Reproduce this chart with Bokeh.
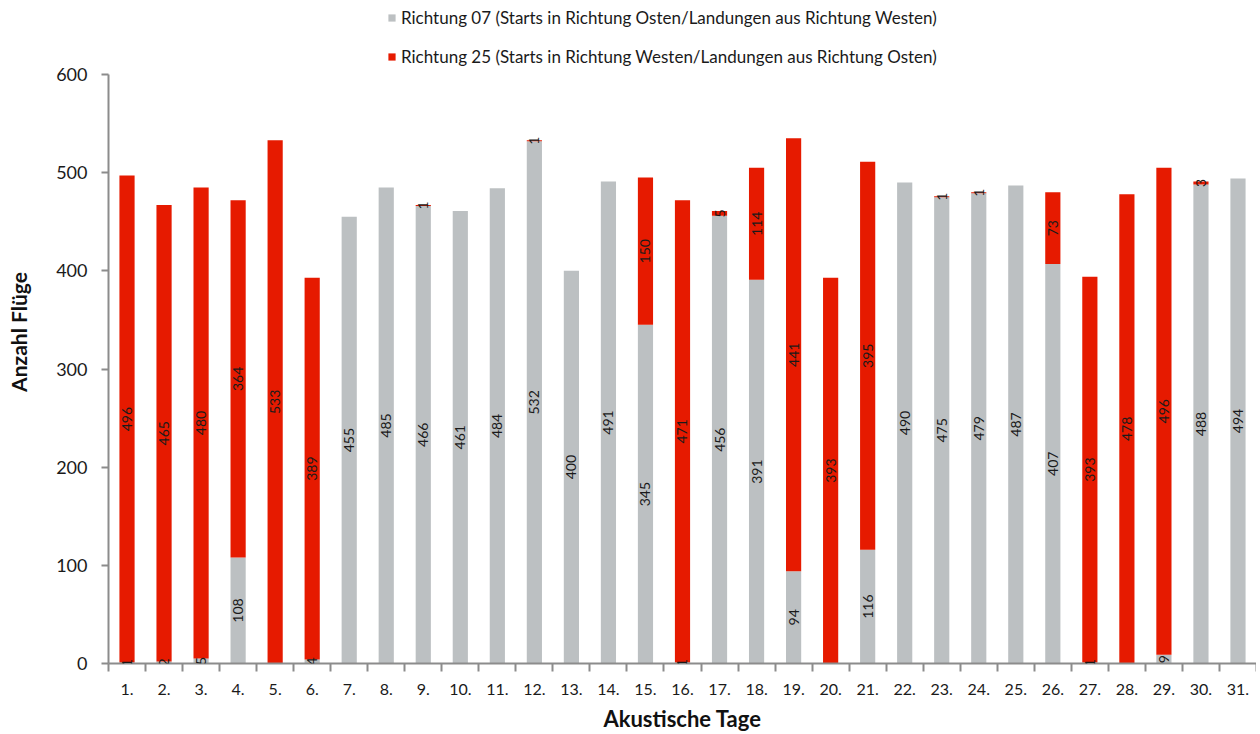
import math
from bokeh.plotting import figure
from bokeh.models import (ColumnDataSource, LabelSet, Legend, LegendItem,
                          FixedTicker, Range1d)
from bokeh.core.properties import value
from bokeh.embed import file_html
from bokeh.resources import INLINE

# ---- data ----
days = list(range(1, 32))
day_labels = [f"{d}." for d in days]
r07 = [1, 2, 5, 108, 0, 4, 455, 485, 466, 461, 484, 532, 400, 491, 345, 1,
       456, 391, 94, 0, 116, 490, 475, 479, 487, 407, 1, 0, 9, 488, 494]
r25 = [496, 465, 480, 364, 533, 389, 0, 0, 1, 0, 0, 1, 0, 0, 150, 471,
       5, 114, 441, 393, 395, 0, 1, 1, 0, 73, 393, 478, 496, 3, 0]
y_ticks = [0, 100, 200, 300, 400, 500, 600]
name07 = "Richtung 07 (Starts in Richtung Osten/Landungen aus Richtung Westen)"
name25 = "Richtung 25 (Starts in Richtung Westen/Landungen aus Richtung Osten)"

GRAY = "#bcc0c2"
RED = "#e61a00"
AXIS = "#8c8c8c"
FONT = "Lato"

# layout geometry (pixels): plot area 589 px tall for 0..600,
# plus 74 px of headroom above it for the legend
PLOT_H = 589
HEAD = 74
Y_MAX = 600
y_top = Y_MAX * (PLOT_H + HEAD) / PLOT_H

src = ColumnDataSource(dict(x=days, r07=r07, r25=r25))

p = figure(frame_width=1148, frame_height=PLOT_H + HEAD, output_backend="svg",
           toolbar_location=None,
           x_range=Range1d(0.5, 31.5), y_range=Range1d(0, y_top),
           min_border_left=108, min_border_right=0,
           min_border_top=0, min_border_bottom=0)

rs = p.vbar_stack(["r07", "r25"], x="x", width=0.41, source=src,
                  color=[GRAY, RED], line_color=None)

# data labels
lx, ly, lt = [], [], []
for d, a, b in zip(days, r07, r25):
    if a > 0:
        lx.append(d); ly.append(a / 2); lt.append(str(a))
    if b > 0:
        lx.append(d); ly.append(a + b / 2); lt.append(str(b))
lsrc = ColumnDataSource(dict(x=lx, y=ly, t=lt))
p.add_layout(LabelSet(x="x", y="y", text="t", source=lsrc, angle=math.pi / 2,
                      text_align="center", text_baseline="middle",
                      text_font=value(FONT), text_font_size="14px",
                      text_color="#1a1a1a"))

# axes
p.xgrid.visible = False
p.ygrid.visible = False
p.outline_line_color = None

xa = p.xaxis[0]
xa.ticker = FixedTicker(ticks=days, minor_ticks=[d + 0.5 for d in [0] + days])
xa.major_label_overrides = {d: l for d, l in zip(days, day_labels)}
xa.major_tick_out = 0
xa.major_tick_in = 0
xa.minor_tick_out = 8
xa.minor_tick_in = 0
xa.minor_tick_line_color = AXIS
xa.minor_tick_line_width = 2
xa.axis_line_color = AXIS
xa.axis_line_width = 2
xa.major_label_standoff = 12
xa.major_label_text_font = FONT
xa.major_label_text_font_size = "16px"
xa.major_label_text_color = "#1a1a1a"
xa.axis_label = "Akustische Tage"
xa.axis_label_standoff = 7
xa.axis_label_text_font = FONT
xa.axis_label_text_font_size = "22px"
xa.axis_label_text_font_style = "bold"
xa.axis_label_text_color = "#111111"

ya = p.yaxis[0]
ya.ticker = FixedTicker(ticks=y_ticks, minor_ticks=[])
ya.bounds = (0, Y_MAX)
ya.major_tick_out = 7
ya.major_tick_in = 0
ya.major_tick_line_color = AXIS
ya.major_tick_line_width = 2
ya.axis_line_color = AXIS
ya.axis_line_width = 2
ya.major_label_standoff = 14
ya.major_label_text_font = FONT
ya.major_label_text_font_size = "18px"
ya.major_label_text_color = "#1a1a1a"
ya.axis_label = "Anzahl Flüge"
ya.axis_label_standoff = 22
ya.axis_label_text_font = FONT
ya.axis_label_text_font_size = "21px"
ya.axis_label_text_font_style = "bold"
ya.axis_label_text_color = "#111111"

legend = Legend(items=[LegendItem(label=name07, renderers=[rs[0]]),
                       LegendItem(label=name25, renderers=[rs[1]])],
                orientation="vertical", location=(279, PLOT_H + HEAD - 67),
                glyph_width=9, glyph_height=9, label_standoff=5,
                spacing=18, padding=1, margin=0,
                label_text_font=FONT, label_text_font_size="17px",
                label_text_color="#1a1a1a",
                border_line_color=None, background_fill_alpha=0)
p.add_layout(legend, "center")

open("out.html", "w").write(file_html(p, INLINE))
